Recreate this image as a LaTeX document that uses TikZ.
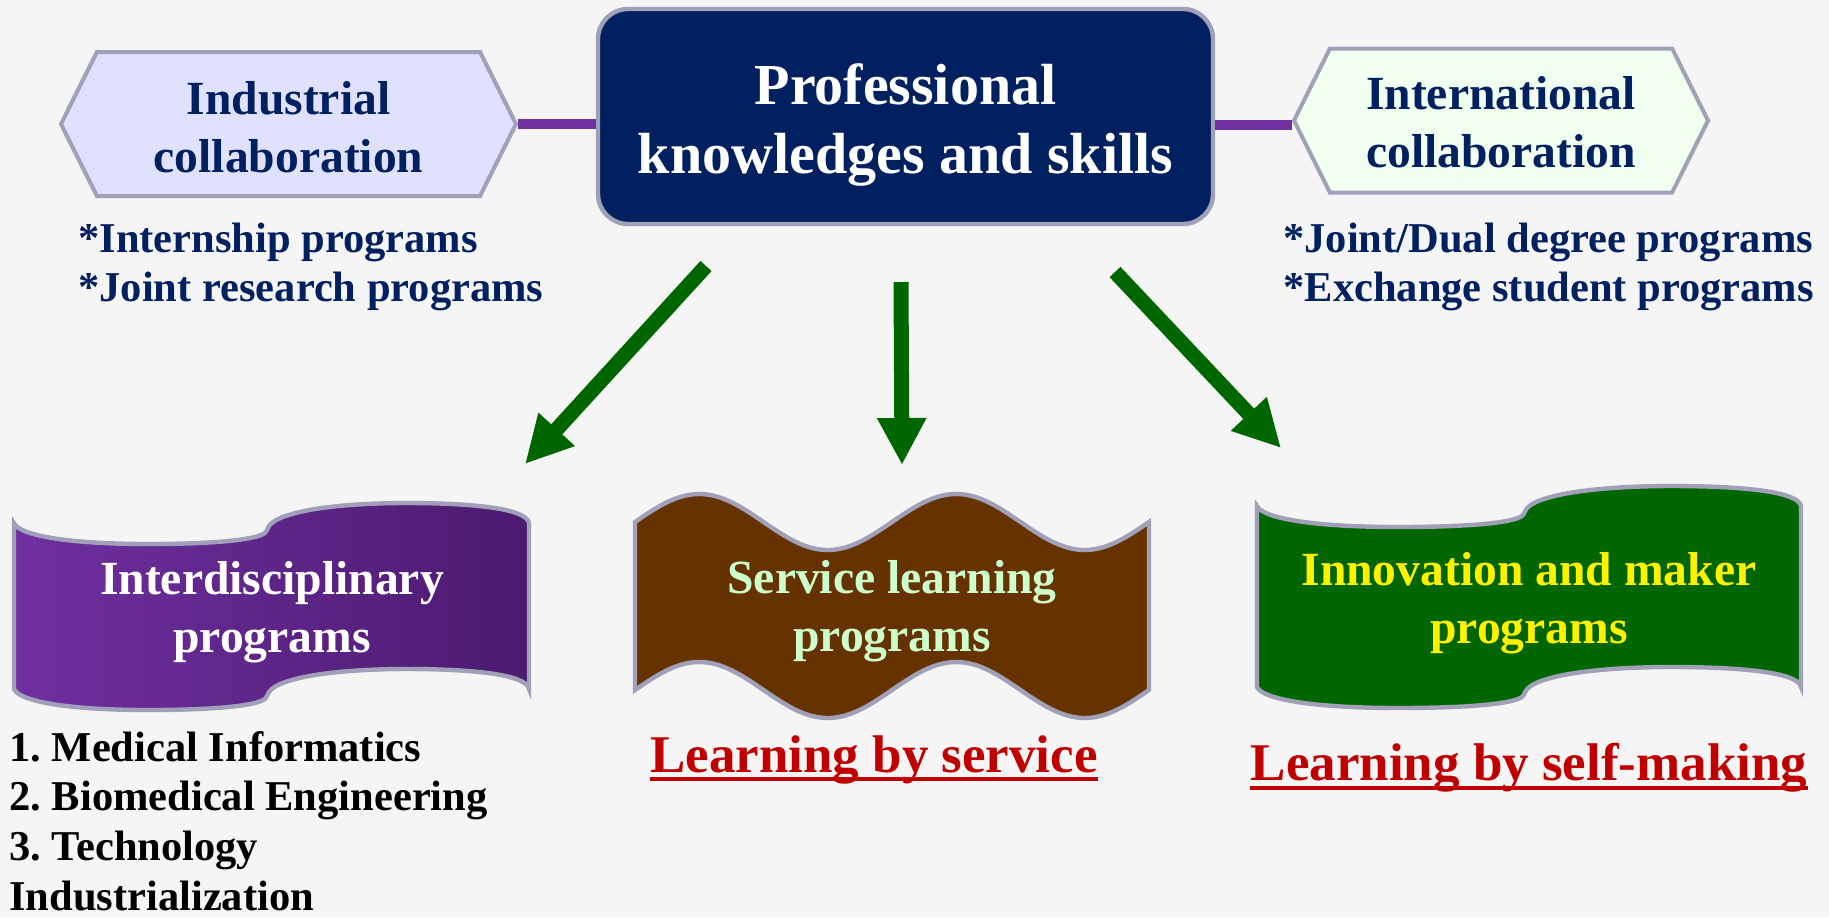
\documentclass[tikz,border=0pt]{standalone}
\usepackage{fontspec}
\setmainfont{Liberation Serif}
\usetikzlibrary{shapes.symbols,arrows.meta}
\frenchspacing

\definecolor{navy}{RGB}{0,32,96}
\definecolor{edgegray}{RGB}{160,160,184}
\definecolor{linkpurple}{RGB}{112,48,160}
\definecolor{deeppurple}{RGB}{76,26,112}
\definecolor{arrowgreen}{RGB}{0,102,0}
\definecolor{soilbrown}{RGB}{102,51,0}
\definecolor{mint}{RGB}{204,255,204}
\definecolor{hexlav}{RGB}{224,224,255}
\definecolor{hexmint}{RGB}{240,255,240}
\definecolor{mottored}{RGB}{192,0,0}
\definecolor{bg}{RGB}{245,245,245}

% flag with a step in the middle, width #1 and height #2
\newcommand{\flagpath}[2]{%
  (0,0) .. controls ({0.01*#1},12) and ({0.1*#1},21) .. ({0.26*#1},21)
  .. controls ({0.4*#1},21) and ({0.485*#1},16) .. ({0.49*#1},8)
  .. controls ({0.495*#1},1) and ({0.505*#1},-4) .. ({0.54*#1},-9)
  .. controls ({0.6*#1},-18) and ({0.7*#1},-20) .. ({0.76*#1},-20)
  .. controls ({0.9*#1},-20) and ({0.995*#1},-14) .. (#1,0)
  -- (#1,#2)
  .. controls ({0.995*#1},{#2-14}) and ({0.9*#1},{#2-20}) .. ({0.76*#1},{#2-20})
  .. controls ({0.7*#1},{#2-20}) and ({0.6*#1},{#2-18}) .. ({0.54*#1},{#2-9})
  .. controls ({0.505*#1},{#2-4}) and ({0.495*#1},{#2+1}) .. ({0.49*#1},{#2+8})
  .. controls ({0.485*#1},{#2+16}) and ({0.4*#1},{#2+21}) .. ({0.26*#1},{#2+21})
  .. controls ({0.1*#1},{#2+21}) and ({0.01*#1},{#2+12}) .. (0,#2) -- cycle}

\begin{document}
\begin{tikzpicture}[x=0.5pt,y=-0.5pt,
  hexbox/.style={shape=signal,signal to=west and east,signal pointer angle=127,
    draw=edgegray,line width=2pt,minimum height=72pt,inner sep=0pt,
    text height=48pt,text depth=0pt,
    text=navy,align=center,font=\fontsize{23.8}{29}\selectfont\bfseries},
  bullets/.style={anchor=west,inner sep=0pt,align=left,text=navy,
    font=\fontsize{21.25}{24.8}\selectfont\bfseries},
  bannertext/.style={align=center,inner sep=0pt,
    font=\fontsize{23.8}{29}\selectfont\bfseries},
  motto/.style={anchor=base,inner sep=0pt,text=mottored,
    font=\fontsize{26.5}{32}\selectfont\bfseries},
  banner/.style={draw=edgegray,line width=2.2pt},
  link/.style={linkpurple,line width=5pt},
  bigarrow/.style={arrowgreen,line width=7.5pt,-{Triangle[width=23pt,length=23.5pt]}}]

  \fill[bg] (0,0) rectangle (1829,917);
  \useasboundingbox (0,0) rectangle (1829,917);

  \node[draw=edgegray,line width=2.2pt,fill=navy,rounded corners=15pt,
    minimum width=307.5pt,minimum height=107.5pt,text=white,align=center,
    text height=56.5pt,text depth=0pt,font=\fontsize{29}{34.5}\selectfont\bfseries]
    (prof) at (905.5,116.5) {Professional\\knowledges and skills};
  \node[hexbox,fill=hexlav,minimum width=227.5pt] (indhex) at (288.5,124) {Industrial\\collaboration};
  \node[hexbox,fill=hexmint,minimum width=207pt,text height=46.5pt] (inthex) at (1501,120.5) {International\\collaboration};
  \draw[link] (indhex.east) -- (indhex.east -| prof.west);
  \draw[link] ([yshift=-2pt]inthex.west) -- ([yshift=-2pt]inthex.west -| prof.east);

  \node[bullets] (indlist) at (78,267) {*Internship programs\\*Joint research programs};
  \node[bullets] (intlist) at (1283,267) {*Joint/Dual degree programs\\*Exchange student programs};

  \coordinate (arrl-from) at (706,266);
  \coordinate (arrl-to) at (525,464);
  \coordinate (arrm-from) at (901,282);
  \coordinate (arrm-to) at (902,465);
  \coordinate (arrr-from) at (1115,272);
  \coordinate (arrr-to) at (1281,448);
  \draw[bigarrow] (arrl-from) -- (arrl-to);
  \draw[bigarrow] (arrm-from) -- (arrm-to);
  \draw[bigarrow] (arrr-from) -- (arrr-to);

  \draw[banner,left color=linkpurple,right color=deeppurple,shift={(14,523)}] \flagpath{515}{166};
  \draw[banner,fill=soilbrown,shift={(635,522)}]
    plot[domain=0:514,samples=80,smooth] (\x,{-28*sin(\x*1.40078)})
    -- plot[domain=514:0,samples=80,smooth] (\x,{168-28*sin(\x*1.40078)}) -- cycle;
  \draw[banner,fill=arrowgreen,shift={(1257,506)}] \flagpath{544}{181};

  \node[bannertext,text=white] (inter) at (272,612) {Interdisciplinary\\programs};
  \node[bannertext,text=mint] (serv) at (892,611) {Service learning\\programs};
  \node[bannertext,text=yellow] (innov) at (1529,603) {Innovation and maker\\programs};

  \node[bullets,text=black] (majors) at (9,821)
    {1. Medical Informatics\\2. Biomedical Engineering\\3. Technology\\Industrialization};

  \node[motto] (bysrv) at (874,772) {Learning by service};
  \node[motto] (bymake) at (1529,780) {Learning by self-making};
  \draw[mottored,line width=2pt] ([yshift=-3.5pt]bysrv.base west) -- ([yshift=-3.5pt]bysrv.base east);
  \draw[mottored,line width=2pt] ([yshift=-3.8pt]bymake.base west) -- ([yshift=-3.8pt]bymake.base east);
\end{tikzpicture}
\end{document}
